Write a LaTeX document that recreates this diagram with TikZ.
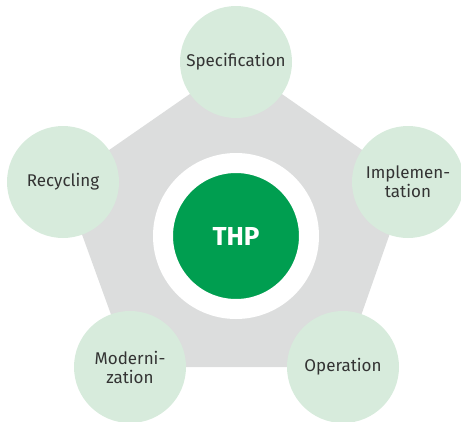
\documentclass[tikz,border=0pt]{standalone}
\usepackage{fontspec}
\setmainfont{Fira Sans}
\usetikzlibrary{positioning}

\definecolor{ringgray}{RGB}{220,221,221}
\definecolor{leafgreen}{RGB}{215,235,220}
\definecolor{thpgreen}{RGB}{0,158,80}
\definecolor{labelgray}{RGB}{51,51,51}

\begin{document}
\begin{tikzpicture}[
    x=1pt, y=-1pt,
    phase/.style={circle, fill=leafgreen, minimum size=112pt, inner sep=0pt,
                  text=labelgray, align=center, font=\fontsize{17}{19}\selectfont},
    hub/.style={circle, fill=thpgreen, draw=white, line width=20pt, minimum size=146pt,
                inner sep=0pt, text=white, font=\fontsize{26}{30}\selectfont\bfseries}
]
\useasboundingbox (0,0) rectangle (461,421);
\clip (0,0) rectangle (461,421);

% Corners of the cycle
\coordinate (p1) at (236,62);
\coordinate (p2) at (408,182);
\coordinate (p3) at (343,367);
\coordinate (p4) at (130,367);
\coordinate (p5) at (63,182);

% Pentagon
\fill[ringgray] (p1) -- (p2) -- (p3) -- (p4) -- (p5) -- cycle;

% Centre
\node[hub] (thp) at (236,236) {THP};

% Phases
\node[phase] (spec) at (p1) {Specification};
\node[phase] (impl) at (p2) {Implemen-\\tation};
\node[phase] (oper) at (p3) {Operation};
\node[phase] (modern) at (p4) {Moderni-\\zation};
\node[phase] (recyc) at (p5) {Recycling};

\end{tikzpicture}
\end{document}
